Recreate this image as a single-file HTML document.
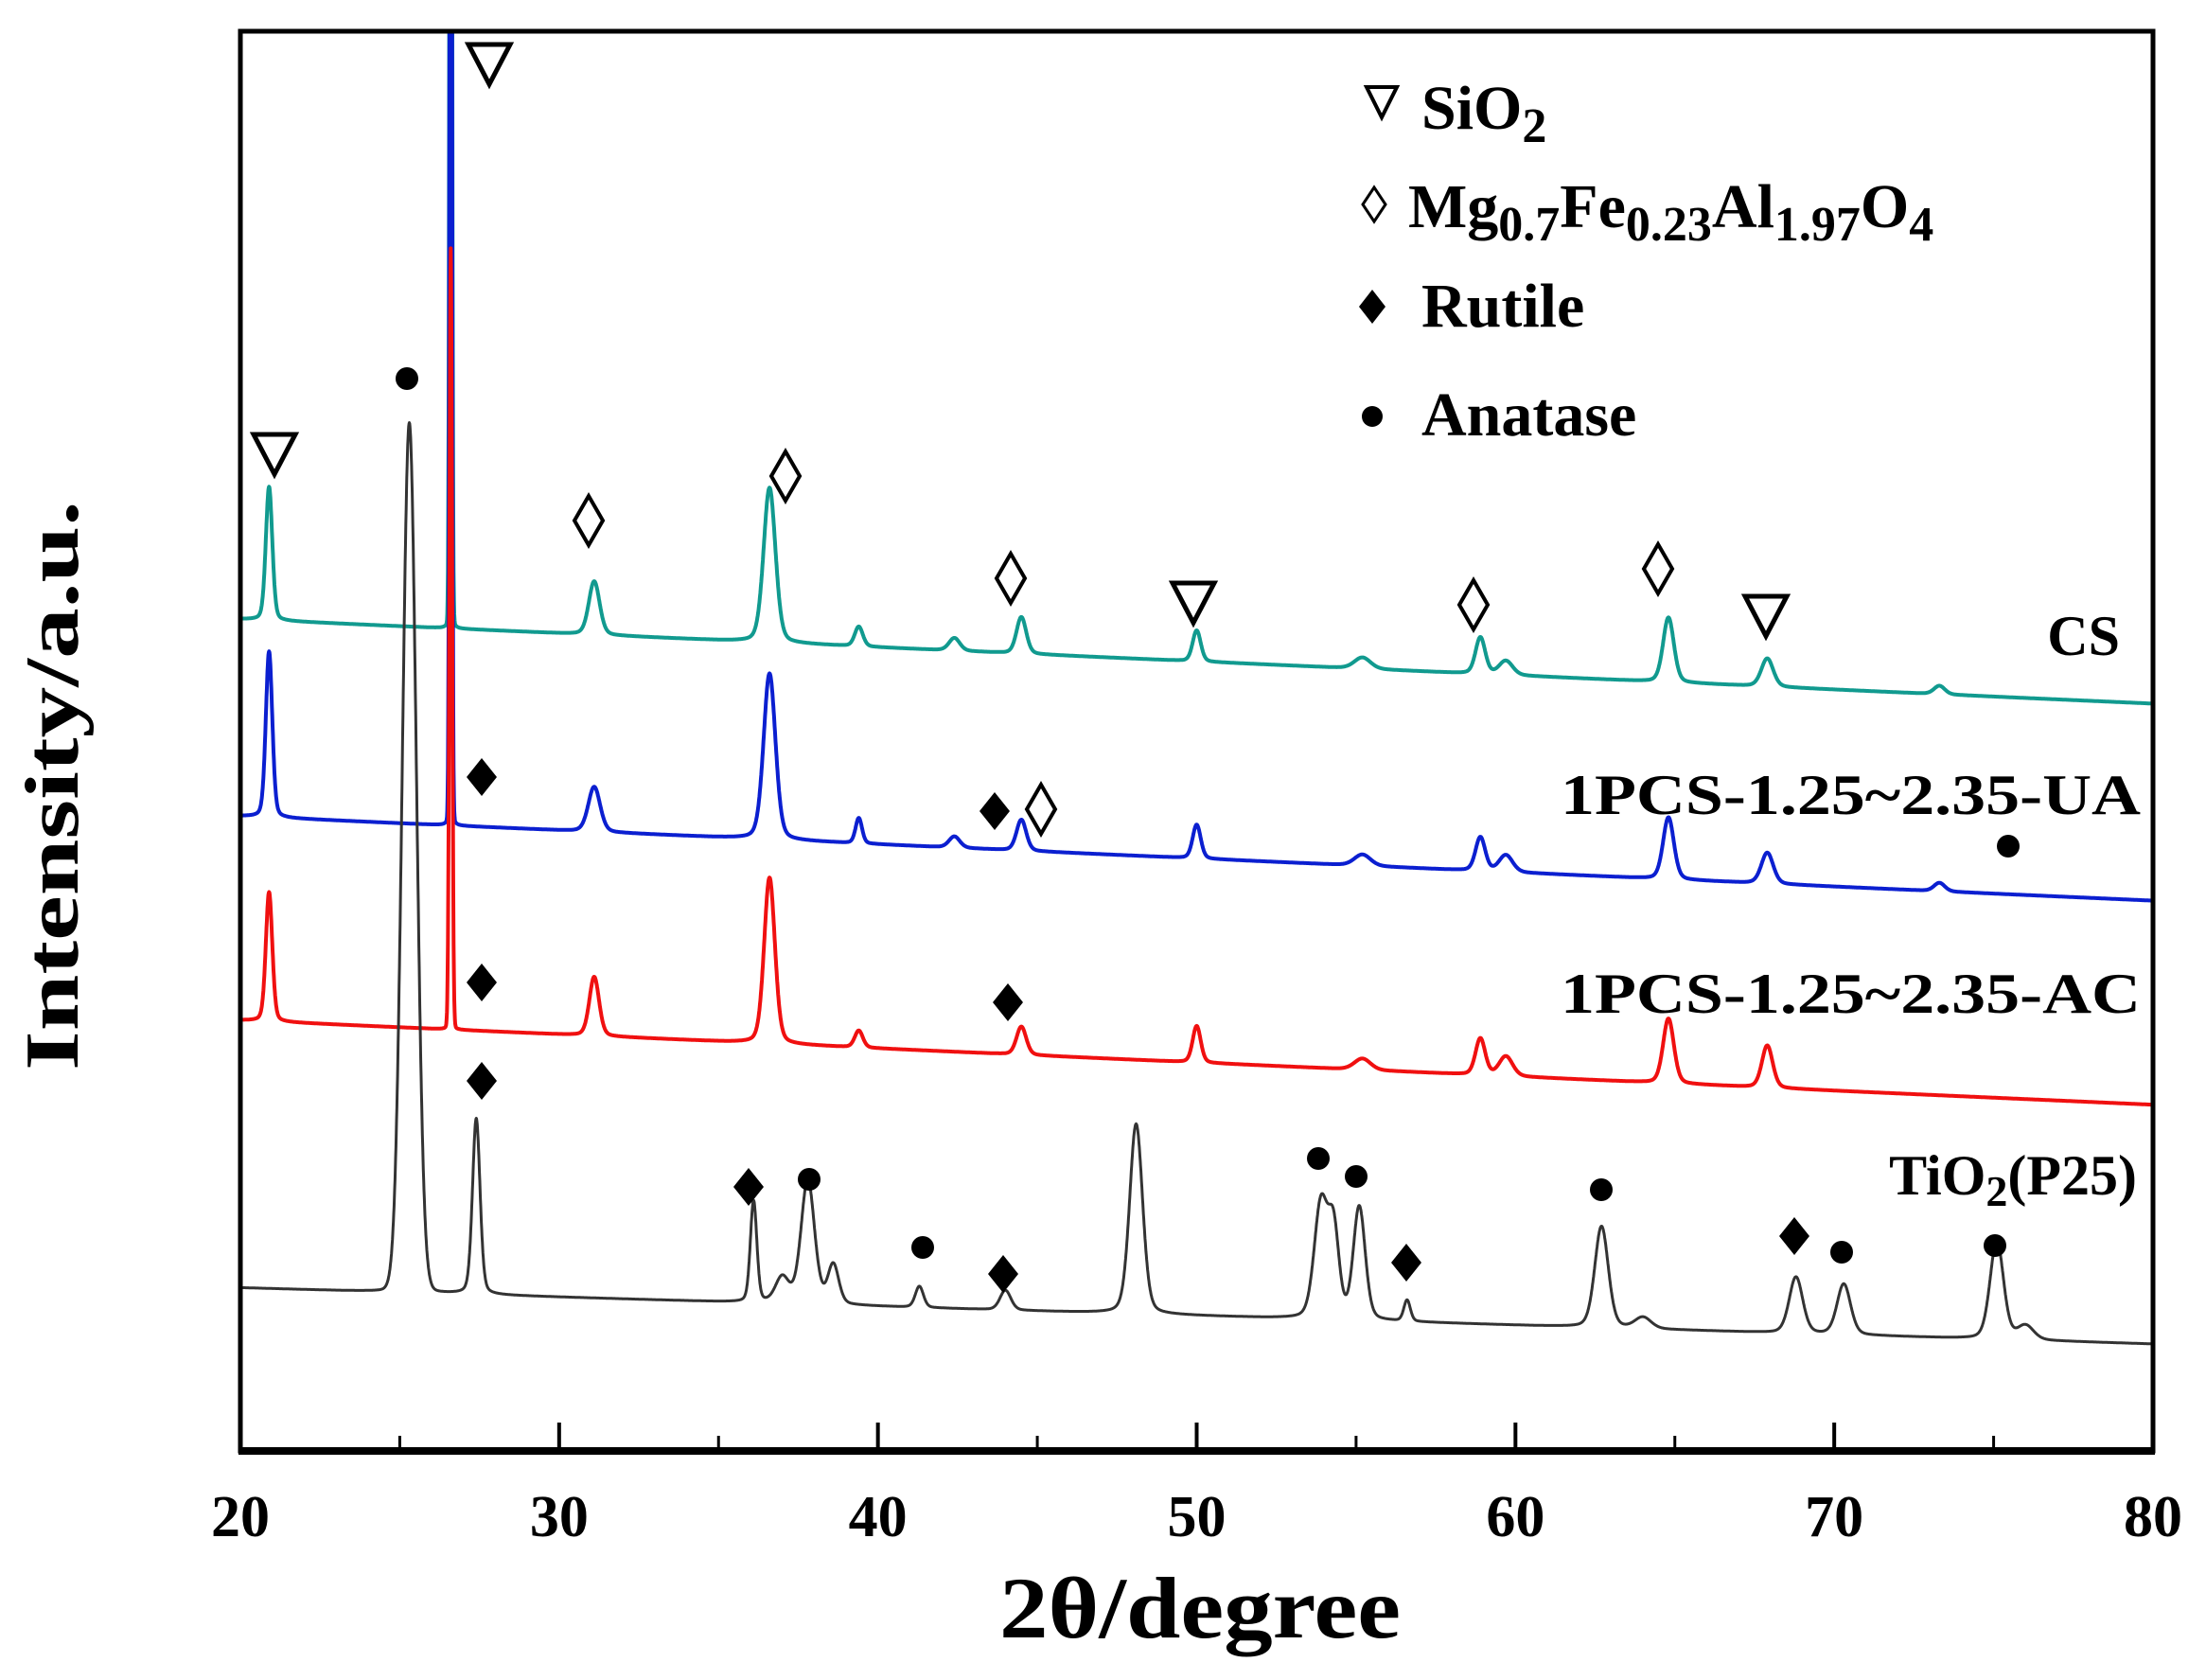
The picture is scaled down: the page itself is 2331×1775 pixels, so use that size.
<!DOCTYPE html>
<html><head><meta charset="utf-8"><style>
html,body{margin:0;padding:0;background:#fff;}
svg{display:block;font-family:"Liberation Serif",serif;font-weight:bold;}
</style></head><body>
<svg id="chart" width="2331" height="1775" viewBox="0 0 2331 1775">
<defs><clipPath id="plotclip"><rect x="256" y="35" width="2017" height="1496"/></clipPath></defs>
<g id="series" clip-path="url(#plotclip)"></g>
<rect x="254" y="33" width="2021" height="1500" fill="none" stroke="#000" stroke-width="5"/>
<line x1="252" y1="1533" x2="2277" y2="1533" stroke="#000" stroke-width="8"/>
<g id="ticks"></g>
<text x="1268" y="1730" font-size="92" text-anchor="middle" textLength="424" lengthAdjust="spacingAndGlyphs">2θ/degree</text>
<text transform="translate(82,830) rotate(-90)" font-size="80" text-anchor="middle" textLength="602" lengthAdjust="spacingAndGlyphs">Intensity/a.u.</text>
<g id="markers"></g>
<g font-size="66">
  <g><polygon points="1444,92 1476,92 1460,124" fill="none" stroke="#000" stroke-width="4"/><text x="1502" y="136">SiO<tspan font-size="52" dy="14">2</tspan></text></g>
  <g><polygon points="1452,198 1464,216 1452,234 1440,216" fill="none" stroke="#000" stroke-width="3"/><text x="1488" y="240">Mg<tspan font-size="52" dy="14">0.7</tspan><tspan dy="-14">Fe</tspan><tspan font-size="52" dy="14">0.23</tspan><tspan dy="-14">Al</tspan><tspan font-size="52" dy="14">1.97</tspan><tspan dy="-14">O</tspan><tspan font-size="52" dy="14">4</tspan></text></g>
  <g><polygon points="1450,306 1464,324 1450,342 1436,324" fill="#000"/><text x="1502" y="345">Rutile</text></g>
  <g><circle cx="1450" cy="440" r="11" fill="#000"/><text x="1502" y="460">Anatase</text></g>
</g>
<g font-size="60" text-anchor="end">
  <text x="2240" y="692">CS</text>
  <text x="2262" y="860" textLength="613" lengthAdjust="spacingAndGlyphs">1PCS-1.25~2.35-UA</text>
  <text x="2262" y="1070" textLength="613" lengthAdjust="spacingAndGlyphs">1PCS-1.25~2.35-AC</text>
  <text x="2258" y="1262">TiO<tspan font-size="46" dy="12">2</tspan><tspan dy="-12">(P25)</tspan></text>
</g>
</svg>
<script>
// x-axis
const xTicks = [20,30,40,50,60,70,80];
const xMinor = [25,35,45,55,65,75];
// series: baseline start/end intensity, peak centres, heights, widths
const csBase = [591, 531];
const csPos = [20.9,26.6,31.1,36.6,39.4,42.4,44.5,50.0,55.2,58.9,59.7,64.8,67.9,73.3];
const csH   = [95,1200,38,110,14,9,26,22,8,26,10,46,20,6];
const csW   = [0.12,0.04,0.2,0.22,0.15,0.2,0.18,0.15,0.3,0.18,0.25,0.2,0.22,0.2];
const uaBase = [451, 391];
const uaPos = [20.9,26.6,31.1,36.6,39.4,42.4,44.5,50.0,55.2,58.9,59.7,64.8,67.9,73.3];
const uaH   = [118,1200,32,118,18,8,22,24,8,24,12,44,22,6];
const uaW   = [0.12,0.04,0.22,0.22,0.12,0.2,0.18,0.15,0.3,0.18,0.25,0.2,0.22,0.2];
const acBase = [306, 246];
const acPos = [20.9,26.6,31.1,36.6,39.4,44.5,50.0,55.2,58.9,59.7,64.8,67.9];
const acH   = [92,555,42,118,12,20,26,8,26,14,46,30];
const acW   = [0.12,0.05,0.18,0.2,0.15,0.18,0.15,0.3,0.18,0.25,0.2,0.2];
const tiBase = [116, 76];
const tiPos = [25.3,27.4,36.1,37.0,37.8,38.6,41.3,44.0,48.1,53.9,54.3,55.1,56.6,62.7,64.0,68.8,70.3,75.1,76.0];
const tiH   = [618,125,72,18,88,28,15,14,135,82,60,80,15,72,8,40,36,70,10];
const tiW   = [0.26,0.14,0.12,0.25,0.25,0.2,0.15,0.2,0.24,0.25,0.2,0.22,0.12,0.25,0.3,0.25,0.25,0.25,0.3];
const seriesColors = ['#119a8f','#0b1fd0','#f01010','#333'];

const X0=254, X1=2275, Y0=1533;
function xs(d){ return X0 + (d-20)*(X1-X0)/60; }
function ys(v){ return Y0 - v*1.487; }
function profile(base,pos,h,w,x){
  let v = base[0] + (base[1]-base[0])*(x-20)/60;
  for(let i=0;i<pos.length;i++){
    const t=(x-pos[i])/w[i];
    const lf = h[i]>300 ? 0.03 : 0.25;
    v += h[i]*((1-lf)*Math.exp(-0.693*t*t) + lf/(1+t*t));
  }
  return v;
}
const NS='http://www.w3.org/2000/svg';
const sg=document.getElementById('series');
const defs=[[csBase,csPos,csH,csW,'series-cs'],[uaBase,uaPos,uaH,uaW,'series-ua'],[acBase,acPos,acH,acW,'series-ac'],[tiBase,tiPos,tiH,tiW,'series-tio2']];
defs.forEach((s,k)=>{
  let d='';
  for(let x=20.05;x<=80;x+=0.01){
    d+=(d?'L':'M')+xs(x).toFixed(1)+','+ys(profile(s[0],s[1],s[2],s[3],x)).toFixed(1);
  }
  const p=document.createElementNS(NS,'path');
  p.setAttribute('d',d);p.setAttribute('fill','none');
  p.setAttribute('stroke',seriesColors[k]);p.setAttribute('stroke-width',k==3?'3':'4');
  p.setAttribute('stroke-linejoin','round');
  
  
  sg.appendChild(p);
});
// ticks
const tg=document.getElementById('ticks');
xTicks.forEach(t=>{
  const x=xs(t);
  if(t>20&&t<80){
    const l=document.createElementNS(NS,'line');
    l.setAttribute('x1',x);l.setAttribute('x2',x);l.setAttribute('y1',Y0);l.setAttribute('y2',Y0-30);
    l.setAttribute('stroke','#000');l.setAttribute('stroke-width','4');
    
    
    tg.appendChild(l);
  }
  const tx=document.createElementNS(NS,'text');
  tx.setAttribute('x',x);tx.setAttribute('y',1623);tx.setAttribute('text-anchor','middle');
  tx.setAttribute('font-size','62');
  tx.textContent=t;
  
  
  tg.appendChild(tx);
});
xMinor.forEach(t=>{
  const x=xs(t);
  const l=document.createElementNS(NS,'line');
  l.setAttribute('x1',x);l.setAttribute('x2',x);l.setAttribute('y1',Y0);l.setAttribute('y2',Y0-16);
  l.setAttribute('stroke','#000');l.setAttribute('stroke-width','3');
  
  
  tg.appendChild(l);
});
// phase markers (annotation glyph positions)
const triMarks=[[290,479],[517,67],[1261,636],[1866,650]];
const openDia=[[622,550],[830,503],[1068,611],[1557,639],[1752,601],[1100,855]];
const fillDia=[[509,821],[1051,857],[509,1038],[1065,1059],[509,1142],[791,1254],[1060,1346],[1486,1334],[1896,1306]];
const dots=[[430,400],[855,1246],[975,1318],[1393,1224],[1433,1243],[1692,1257],[1946,1323],[2108,1316],[2122,894]];
const mg=document.getElementById('markers');
triMarks.forEach(m=>{
  const p=document.createElementNS(NS,'polygon');
  p.setAttribute('points',`${m[0]-22},${m[1]-20} ${m[0]+22},${m[1]-20} ${m[0]},${m[1]+22}`);
  p.setAttribute('fill','none');p.setAttribute('stroke','#000');p.setAttribute('stroke-width','5');
  
  
  mg.appendChild(p);
});
openDia.forEach(m=>{
  const p=document.createElementNS(NS,'polygon');
  p.setAttribute('points',`${m[0]},${m[1]-26} ${m[0]+15},${m[1]} ${m[0]},${m[1]+26} ${m[0]-15},${m[1]}`);
  p.setAttribute('fill','none');p.setAttribute('stroke','#000');p.setAttribute('stroke-width','4');
  
  
  mg.appendChild(p);
});
fillDia.forEach(m=>{
  const p=document.createElementNS(NS,'polygon');
  p.setAttribute('points',`${m[0]},${m[1]-20} ${m[0]+16},${m[1]} ${m[0]},${m[1]+20} ${m[0]-16},${m[1]}`);
  p.setAttribute('fill','#000');
  
  
  mg.appendChild(p);
});
dots.forEach(m=>{
  const c=document.createElementNS(NS,'circle');
  c.setAttribute('cx',m[0]);c.setAttribute('cy',m[1]);c.setAttribute('r','12');c.setAttribute('fill','#000');
  
  
  mg.appendChild(c);
});
</script>
</body></html>
